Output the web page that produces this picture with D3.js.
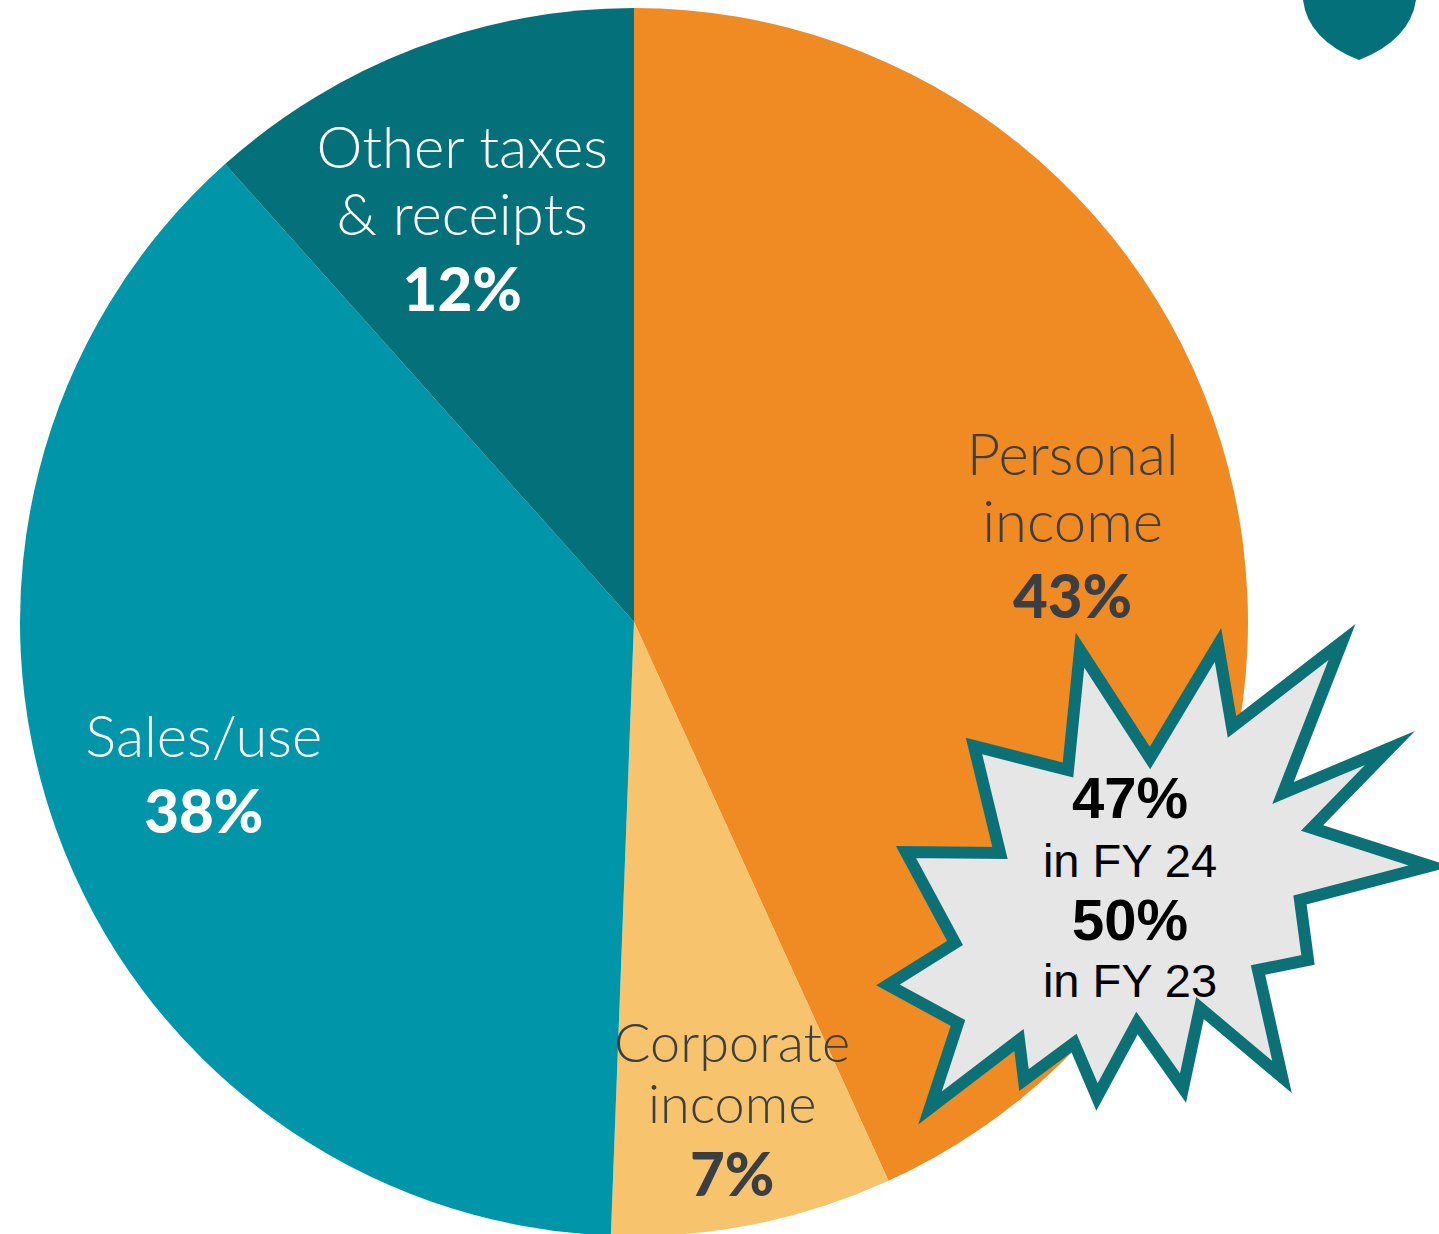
<!DOCTYPE html>
<html>
<head>
<meta charset="utf-8">
<script src="https://cdn.jsdelivr.net/npm/d3@7"></script>
<style>
  html, body { margin: 0; padding: 0; background: #fff; }
  svg { display: block; }
</style>
</head>
<body>
<svg id="chart" width="1439" height="1234"></svg>
<script>
// ---------------------------------------------------------------------
// Share of tax revenue, by source (clockwise from 12 o'clock).
// Shares; the labels show them rounded.
// ---------------------------------------------------------------------
const categories = ["Personal income", "Corporate income", "Sales/use", "Other taxes & receipts"];
const shares     = [43.2, 7.4, 37.8, 11.6];
const labelLines = [["Personal", "income"], ["Corporate", "income"], ["Sales/use"], ["Other taxes", "& receipts"]];

// Callout: personal income share in earlier years
const calloutValues = ["47%", "50%"];
const calloutYears  = ["in FY 24", "in FY 23"];

// ---------------------------------------------------------------------
// Layout
// ---------------------------------------------------------------------
let svg    = d3.select("#chart"),
    cx     = 634,
    cy     = 622,
    radius = 614,
    colors = d3.scaleOrdinal()
               .domain(categories)
               .range(["#EF8B22", "#F7C46D", "#0095A8", "#04717A"]),
    inks   = d3.scaleOrdinal()
               .domain(categories)
               .range(["#3B3E42", "#3B3E42", "#FFFFFF", "#FFFFFF"]),
    // how far out (fraction of radius) each label sits, plus a small nudge
    labelR     = [0.731, 0.809, 0.743, 0.712],
    labelNudge = [[0, 0], [2, 0], [-1, -2], [-16, 6]];

let pie = d3.pie()
  .sort(null)
  .startAngle(0)
  .endAngle(2 * Math.PI)
  .value(d => d);

let arc = d3.arc()
  .innerRadius(0)
  .outerRadius(radius);

let arcs = pie(shares);

let gPie = svg.append("g")
  .attr("transform", `translate(${cx},${cy})`);

gPie.selectAll("path.slice")
  .data(arcs)
  .enter().append("path")
    .attr("class", "slice")
    .attr("d", arc)
    .attr("fill", (d, i) => colors(categories[i]));

// ---------------------------------------------------------------------
// Slice labels: name lines in light weight, share in heavy weight
// ---------------------------------------------------------------------
let labels = gPie.selectAll("g.label")
  .data(arcs)
  .enter().append("g")
    .attr("class", "label")
    .attr("transform", (d, i) => {
      let a = (d.startAngle + d.endAngle) / 2,
          r = radius * labelR[i];
      return `translate(${Math.sin(a) * r + labelNudge[i][0]},${-Math.cos(a) * r + labelNudge[i][1]})`;
    })
    .attr("fill", (d, i) => inks(categories[i]))
    .attr("text-anchor", "middle");

labels.each(function(d, i) {
  let g     = d3.select(this),
      small = i === 1,           // the thin corporate wedge uses tighter type
      lines = labelLines[i],
      step  = small ? 61 : 67,
      pStep = small ? 73 : 76,
      block = 40 + step * (lines.length - 1) + pStep,
      y0    = -block / 2 + 40;

  lines.forEach((t, k) => {
    g.append("text")
      .attr("y", y0 + k * step)
      .style("font-family", "Lato, 'Open Sans', sans-serif")
      .style("font-weight", 300)
      .style("font-size", small ? "54px" : "58px")
      .text(t);
  });
  g.append("text")
    .attr("y", y0 + step * (lines.length - 1) + pStep)
    .style("font-family", "Lato, 'Open Sans', sans-serif")
    .style("font-weight", 900)
    .style("font-size", "60px")
    .text(`${Math.round(d.data)}%`);
});

// ---------------------------------------------------------------------
// Starburst callout
// ---------------------------------------------------------------------
let burstCenter = [1150, 880],
    burstPoints = [
      [-70, -230], [0, -122], [68, -235], [82, -153], [192, -238], [133, -87],
      [240, -132], [162, -52], [280, -14], [150, 20], [158, 80], [108, 90],
      [132, 197], [50, 128], [33, 208], [-13, 143], [-53, 217], [-76, 163],
      [-126, 200], [-131, 160], [-220, 228], [-192, 143], [-262, 105], [-195, 63],
      [-244, -28], [-150, -27], [-176, -134], [-82, -110]
    ];

svg.append("path")
  .datum(burstPoints)
  .attr("transform", `translate(${burstCenter[0]},${burstCenter[1]})`)
  .attr("d", d3.line().curve(d3.curveLinearClosed))
  .attr("fill", "#E6E6E6")
  .attr("stroke", "#0B7176")
  .attr("stroke-width", 12)
  .attr("stroke-linejoin", "miter")
  .attr("stroke-miterlimit", 10);

let gCallout = svg.append("g")
  .attr("transform", "translate(1130,0)")
  .attr("text-anchor", "middle")
  .attr("fill", "#000");

calloutValues.forEach((v, i) => {
  gCallout.append("text")
    .attr("y", 818 + i * 122)
    .style("font-family", "'Liberation Sans', Arial, sans-serif")
    .style("font-weight", 700)
    .style("font-size", "58px")
    .text(v);
  gCallout.append("text")
    .attr("y", 877 + i * 120)
    .style("font-family", "'Liberation Sans', Arial, sans-serif")
    .style("font-weight", 400)
    .style("font-size", "47px")
    .text(calloutYears[i]);
});

// decorative tip of the page marker, top right
svg.append("path")
  .attr("d", "M1303,0 Q1308,40 1359,60 Q1410,40 1416,0 Z")
  .attr("fill", "#04717A");
</script>
</body>
</html>
